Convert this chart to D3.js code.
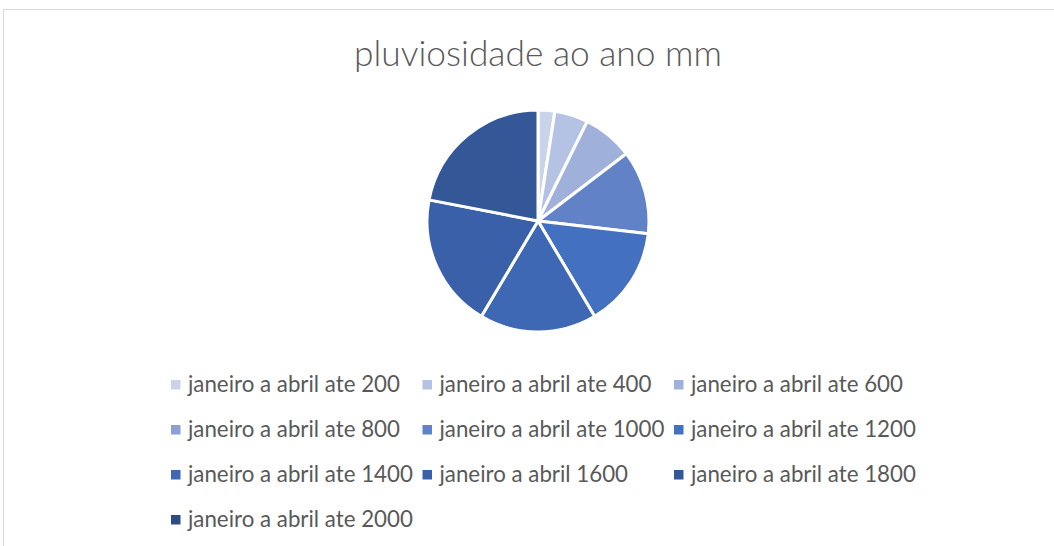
<!DOCTYPE html>
<html>
<head>
<meta charset="utf-8">
<script src="https://cdn.jsdelivr.net/npm/d3@7"></script>
<style>
    body { margin: 0; background: #fff; }
    svg { display: block; }
    text { font-family: Lato, "Open Sans", sans-serif; fill: #595959; }
</style>
</head>
<body>
<div id="chart"></div>
<script>
// pluviosidade data (800 and 2000 have no value in the sheet)
const categories = [
    "janeiro a abril ate 200", "janeiro a abril ate 400", "janeiro a abril ate 600",
    "janeiro a abril ate 800", "janeiro a abril ate 1000", "janeiro a abril ate 1200",
    "janeiro a abril ate 1400", "janeiro a abril 1600", "janeiro a abril ate 1800",
    "janeiro a abril ate 2000"
];
const values = [200, 400, 600, 0, 1000, 1200, 1400, 1600, 1800, 0];
const colors = [
    "#cbd3ea", "#b4c2e3", "#9fb0da", "#8ba0d6", "#6182c7",
    "#4470c0", "#3e68b4", "#3a60a9", "#345897", "#2c4c88"
];
const title = "pluviosidade ao ano mm";

const width = 1054, height = 546;

let svg = d3.select("#chart").append("svg")
    .attr("width", width)
    .attr("height", height);

// chart area border
svg.append("rect")
    .attr("x", 3.5).attr("y", 9.5)
    .attr("width", 1070).attr("height", 560)
    .attr("fill", "#fff")
    .attr("stroke", "#d9d9d9");

//title, sized to the reference width
let titleText = svg.append("text")
    .attr("x", 538).attr("y", 66)
    .attr("text-anchor", "middle")
    .style("font-size", "30px")
    .style("font-weight", 300)
    .text(title);
let tw = titleText.node().getComputedTextLength();
titleText.style("font-size", (30 * 368 / tw) + "px");

// pie
let data = categories.map((c, i) => ({name: c, value: values[i], color: colors[i]}));
let pie = d3.pie().sort(null).value(d => d.value);
let arc = d3.arc().innerRadius(0).outerRadius(111);

let g = svg.append("g").attr("transform", "translate(538,221)");
g.selectAll("path")
    .data(pie(data).filter(d => d.data.value > 0))
    .enter().append("path")
    .attr("d", arc)
    .attr("fill", d => d.data.color)
    .attr("stroke", "#fff")
    .attr("stroke-width", 3)
    .attr("stroke-linejoin", "round");

// legend, 3 per row
let col = d3.scaleLinear().domain([0, 1]).range([171, 422.5]);
let row = d3.scaleLinear().domain([0, 1]).range([384.5, 429.5]);

let legend = svg.append("g");
let items = legend.selectAll("g")
    .data(data)
    .enter().append("g")
    .attr("transform", (d, i) => "translate(" + col(i % 3) + "," + row(Math.floor(i / 3)) + ")");

items.append("rect")
    .attr("x", 0).attr("y", -4.5)
    .attr("width", 9.5).attr("height", 9.5)
    .attr("fill", d => d.color);

let labels = items.append("text")
    .attr("x", 17).attr("y", 0)
    .attr("dy", "0.35em")
    .style("font-size", "20px")
    .text(d => d.name);

let lw = labels.node().getComputedTextLength();
labels.style("font-size", (20 * 212 / lw) + "px");
</script>
</body>
</html>
